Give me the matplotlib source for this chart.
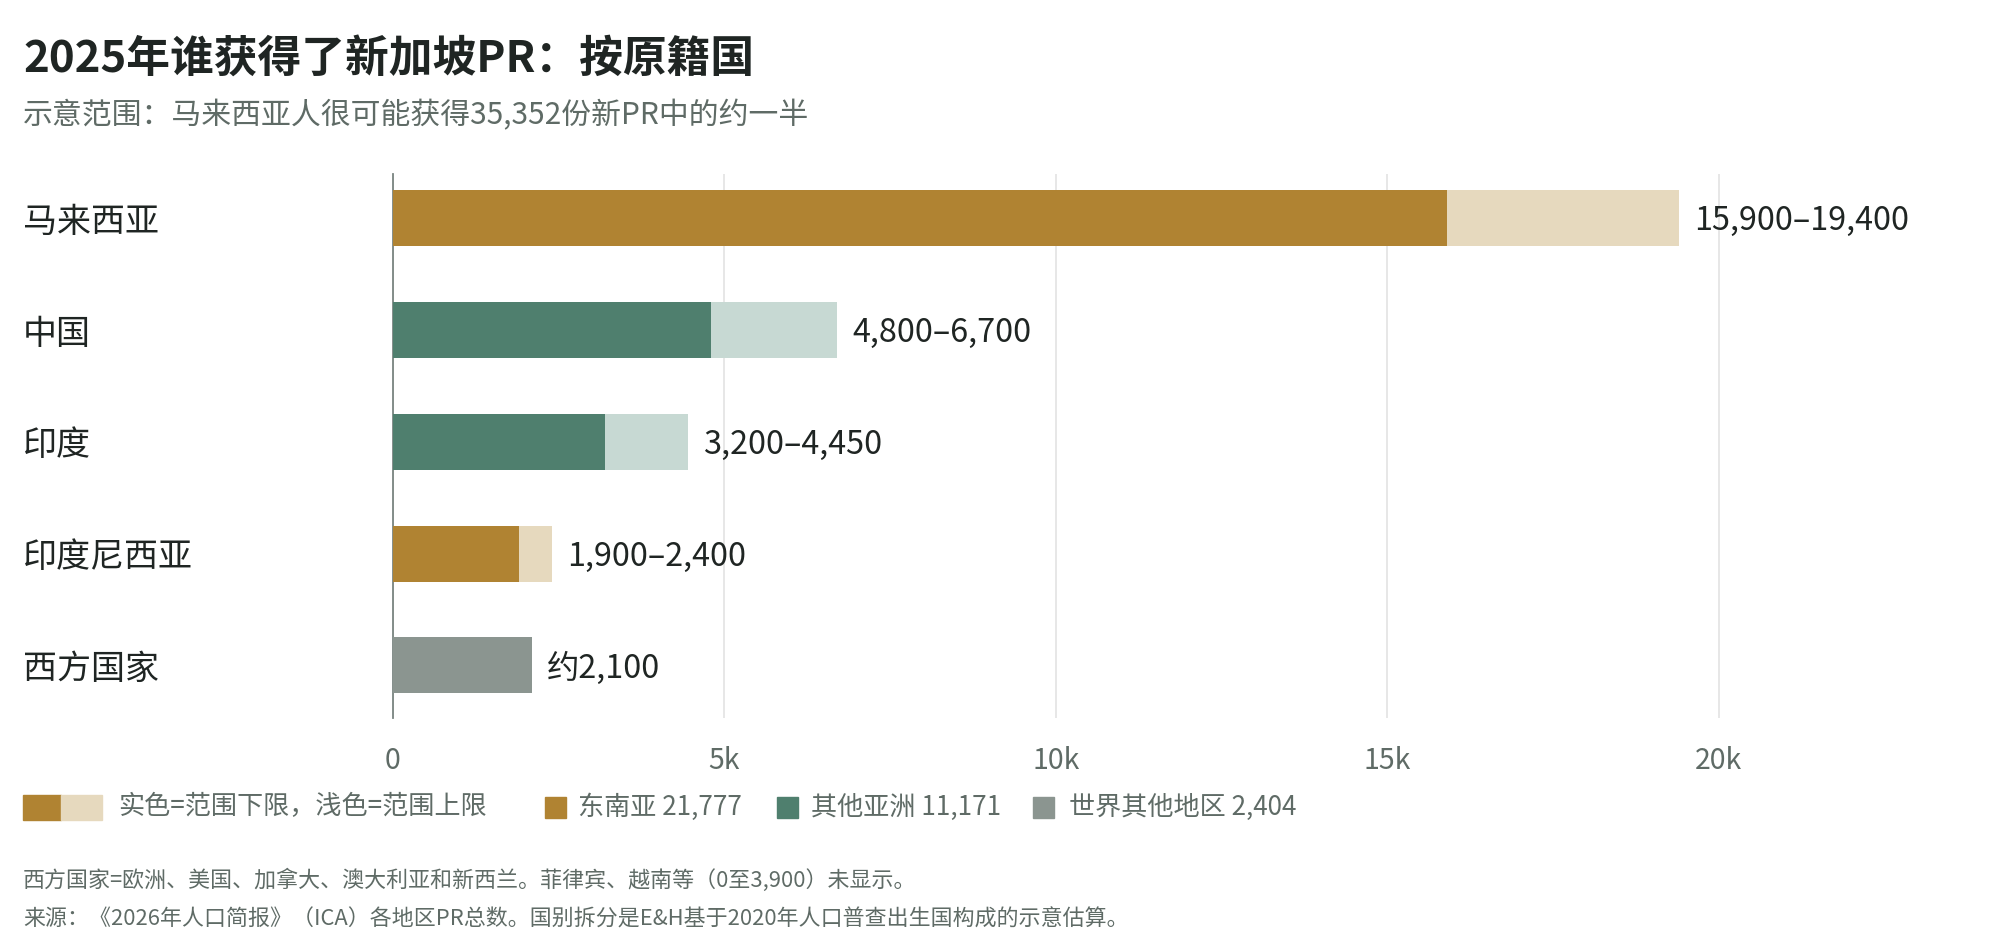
import matplotlib
matplotlib.use("Agg")
import matplotlib.pyplot as plt
from matplotlib.patches import Rectangle
from matplotlib.ticker import FuncFormatter

plt.rcParams['font.family'] = ['Noto Sans CJK SC', 'DejaVu Sans']

# 数据
countries = ['马来西亚', '中国', '印度', '印度尼西亚', '西方国家']
low = [15900, 4800, 3200, 1900, 2100]
high = [19400, 6700, 4450, 2400, 2100]
value_labels = ['15,900–19,400', '4,800–6,700', '3,200–4,450', '1,900–2,400', '约2,100']
regions = ['sea', 'asia', 'asia', 'sea', 'world']

legend_labels = ['东南亚 21,777', '其他亚洲 11,171', '世界其他地区 2,404']

# 颜色
dark = {'sea': '#B08332', 'asia': '#4F7F6E', 'world': '#8B9590'}
light = {'sea': '#E6D9BE', 'asia': '#C7D9D3', 'world': '#8B9590'}
TXT = '#1f2523'
GREY = '#5f6b66'

fig = plt.figure(figsize=(20, 9.4), dpi=100)
ax = fig.add_axes([0.1965, 0.2362, 0.779, 0.5792])

y = list(range(len(countries)))
for i in y:
    r = regions[i]
    ax.barh(i, high[i], height=0.5, color=light[r], zorder=2)
    ax.barh(i, low[i], height=0.5, color=dark[r], zorder=3)
    ax.annotate(value_labels[i], (high[i], i), xytext=(15, -3), textcoords='offset pixels',
                va='center', ha='left', fontsize=23.3, color=TXT)

ax.set_xlim(0, 23500)
ax.set_ylim(4.47, -0.4)
ax.set_yticks([])
ax.set_xticks([0, 5000, 10000, 15000, 20000])
ax.xaxis.set_major_formatter(FuncFormatter(lambda v, p: '0' if v == 0 else f'{int(v/1000)}k'))
ax.tick_params(axis='x', length=0, pad=20, labelsize=20.5, labelcolor=GREY)
ax.grid(axis='x', color='#e3e3e3', linewidth=1.2, zorder=0)
for s in ['top', 'right', 'bottom']:
    ax.spines[s].set_visible(False)
ax.spines['left'].set_color('#7a8581')
ax.spines['left'].set_linewidth(1.3)

# 类别标签
for i, c in enumerate(countries):
    ax.annotate(c, (0, i), xycoords=('figure fraction', 'data'), xytext=(23, -4),
                textcoords='offset pixels', va='center', ha='left', fontsize=24.5, color=TXT)

# 标题
fig.text(0.0115, 0.938, '2025年谁获得了新加坡PR：按原籍国', fontsize=31.5, fontweight='bold',
         color=TXT, va='center', ha='left')
fig.text(0.0115, 0.877, '示意范围：马来西亚人很可能获得35,352份新PR中的约一半', fontsize=21.5,
         color=GREY, va='center', ha='left')

# 图例
W, H = 2000, 940
ly = 1 - 807 / H
fig.patches.append(Rectangle((23 / W, ly - 12.5 / H), 38 / W, 25 / H, transform=fig.transFigure,
                             color=dark['sea'], figure=fig))
fig.patches.append(Rectangle((61 / W, ly - 12.5 / H), 41 / W, 25 / H, transform=fig.transFigure,
                             color=light['sea'], figure=fig))
fig.text(118 / W, ly, '实色=范围下限，浅色=范围上限', fontsize=18.8, color=GREY, va='center', ha='left')

sq_x = [545, 777, 1033]
tx_x = [578, 811, 1069]
for k, key in enumerate(['sea', 'asia', 'world']):
    fig.patches.append(Rectangle((sq_x[k] / W, ly - 10.5 / H), 21 / W, 21 / H,
                                 transform=fig.transFigure, color=dark[key], figure=fig))
    fig.text(tx_x[k] / W, ly, legend_labels[k], fontsize=18.8, color=GREY, va='center', ha='left')

# 注释
fig.text(0.0115, 0.064, '西方国家=欧洲、美国、加拿大、澳大利亚和新西兰。菲律宾、越南等（0至3,900）未显示。',
         fontsize=15.8, color=GREY, va='center', ha='left')
fig.text(0.0115, 0.022, '来源：《2026年人口简报》（ICA）各地区PR总数。国别拆分是E&H基于2020年人口普查出生国构成的示意估算。',
         fontsize=15.8, color=GREY, va='center', ha='left')

fig.savefig('out.png', dpi=100, facecolor='white')
